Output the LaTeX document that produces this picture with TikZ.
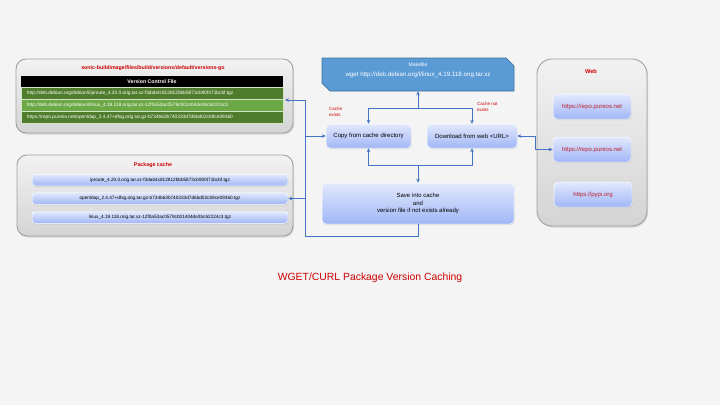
\documentclass[tikz,border=0pt]{standalone}
\usepackage{fontspec}
\setmainfont{Liberation Sans}
\usepackage{tikz}
\usetikzlibrary{arrows.meta,calc,shapes.misc,shadows}

\definecolor{slidebg}{RGB}{244,244,244}
\definecolor{linkblue}{RGB}{68,114,196}
\definecolor{makeblue}{RGB}{91,155,213}
\definecolor{makeedge}{RGB}{65,113,156}
\definecolor{titlered}{RGB}{204,0,0}
\definecolor{urlred}{RGB}{190,30,45}
\definecolor{entrytop}{RGB}{226,233,253}
\definecolor{entrybot}{RGB}{160,182,246}
\definecolor{grouptop}{RGB}{242,242,242}
\definecolor{groupbot}{RGB}{212,212,212}
\definecolor{groupedge}{RGB}{160,160,160}
\definecolor{verdark}{RGB}{80,125,45}
\definecolor{verlight}{RGB}{108,168,70}

\begin{document}
\begin{tikzpicture}[x=1pt,y=-1pt,>={Stealth[length=4pt,width=3.6pt]},line join=round,
  group/.style={draw=groupedge,line width=0.9pt,rounded corners=10pt,top color=grouptop,bottom color=groupbot,
    drop shadow={shadow xshift=1pt,shadow yshift=-1.5pt,opacity=0.25}},
  grouptitle/.style={text=titlered,font=\fontsize{5.3}{6}\selectfont\bfseries},
  entry/.style={draw=white,line width=0.5pt,rounded corners=3pt,top color=entrytop,bottom color=entrybot,
    drop shadow={shadow xshift=0.6pt,shadow yshift=-1pt,opacity=0.25},inner sep=1pt},
  vhead/.style={fill=black,text=white,font=\fontsize{5.2}{6}\selectfont\bfseries,minimum width=262pt,minimum height=11pt,inner sep=0pt},
  vrow/.style={text=white,font=\fontsize{4.8}{5.5}\selectfont,text width=250pt,align=left,inner xsep=6pt,inner ysep=0pt,
    minimum height=12pt,draw=white!70!verlight,line width=0.3pt},
  cacheentry/.style={entry,minimum width=256pt,minimum height=11.5pt,font=\fontsize{4.7}{5.5}\selectfont},
  stepbox/.style={entry,minimum height=24pt,font=\fontsize{6}{7.5}\selectfont,rounded corners=4pt},
  webentry/.style={entry,minimum width=78pt,minimum height=25pt,text=urlred,font=\fontsize{6}{7}\selectfont,rounded corners=4pt},
  note/.style={text=titlered,font=\fontsize{4.5}{6}\selectfont,align=left,anchor=west,inner sep=0pt},
  flow/.style={draw=linkblue,line width=0.9pt}]

  \fill[slidebg] (0,0) rectangle (720,405);

  \node[group,minimum width=277pt,minimum height=74pt] (verbox) at (154.5,96) {};
  \node[grouptitle] (vertitle) at (153,68) {sonic-buildimage/files/build/versions/default/versions-go};
  \node[vhead] (vertable) at (152,81.5) {Version Control File};
  \node[vrow,fill=verdark] (ver1) at (152,93) {http://deb.debian.org/debian/i/iproute\_4.20.0.orig.tar.xz-f3dab4c812812bbb5873cb90f471bcbf.tgz};
  \node[vrow,fill=verlight] (ver2) at (152,105) {http://deb.debian.org/debian/l/linux\_4.19.118.orig.tar.xz-12f0a53ac0579cb01404de3bc62224c3};
  \node[vrow,fill=verdark] (ver3) at (152,117) {https://repo.pureos.net/openldap\_2.4.47+dfsg.orig.tar.gz-b734b63b740333d7d6bd02cb9ce09360};

  \node[group,minimum width=276pt,minimum height=81pt] (cachebox) at (155,195.5) {};
  \node[grouptitle] (cachetitle) at (153,165) {Package cache};
  \node[cacheentry] (cache1) at (160,180) {iproute\_4.20.0.orig.tar.xz-f3dab4c812812bbb5873cb90f471bcbf.tgz};
  \node[cacheentry] (cache2) at (160,198.5) {openldap\_2.4.47+dfsg.orig.tar.gz-b734b63b740333d7d6bd02cb9ce09360.tgz};
  \node[cacheentry] (cache3) at (160,217.5) {linux\_4.19.118.orig.tar.xz-12f0a53ac0579cb01404de3bc62224c3.tgz};

  \node[group,rounded corners=15pt,minimum width=110pt,minimum height=167pt] (webbox) at (592,142.5) {};
  \node[grouptitle,font=\fontsize{5.7}{6}\selectfont\bfseries] (webtitle) at (591,71) {Web};
  \node[webentry] (web1) at (592,106.5) {https://repo.pureos.net};
  \node[webentry] (web2) at (592,149.5) {https://repo.pureos.net};
  \node[webentry] (web3) at (593,194.5) {https://pypi.org};

  \node[chamfered rectangle,chamfered rectangle corners={north east,south west},chamfered rectangle sep=5pt,
    fill=makeblue,draw=makeedge,line width=0.6pt,minimum width=192pt,minimum height=33pt,inner sep=0pt,
    text=white,font=\fontsize{6.2}{7}\selectfont] (make) at (418,74.5) {wget http://deb.debian.org/l/linux\_4.19.118.orig.tar.xz};
  \node[text=white,font=\fontsize{5}{6}\selectfont,inner sep=0pt] (makelabel) at (418,65) {Makefile};

  \node[stepbox,minimum width=85pt] (copy) at (368.5,136) {Copy from cache directory};
  \node[stepbox,minimum width=90pt] (download) at (472,136) {Download from web <URL>};
  \node[stepbox,minimum width=192pt,minimum height=41pt,align=center] (save) at (418,203.5) {Save into cache\\and\\version file if not exists already};

  \node[note] (cachehit) at (329,112) {Cache\\exists};
  \node[note] (cachemiss) at (477,107) {Cache not\\exists};

  \coordinate (jtop) at (418,108);
  \coordinate (jmid) at (418,165);
  \coordinate (jlow) at (305,236);
  \coordinate (vertip) at (285,100);
  \coordinate (jright) at (535,136);

  \draw[flow,<->] (make.south) -- (jtop) -| (copy.north);
  \draw[flow,->] (jtop) -| (download.north);
  \draw[flow,<->] (save.north) -- (jmid) -| (copy.south);
  \draw[flow,->] (jmid) -| (download.south);
  \draw[flow,->] (save.south) |- (jlow) |- (vertip);
  \draw[flow,->] (jlow |- copy.west) -- (copy.west);
  \draw[flow,->] (jlow |- cache2.east) -- (cache2.east);
  \draw[flow,<->] (download.east) -- (jright) |- (web2.west);

  \node[text=titlered,font=\fontsize{10.4}{12}\selectfont] (caption) at (370,278) {WGET/CURL Package Version Caching};
\end{tikzpicture}
\end{document}
